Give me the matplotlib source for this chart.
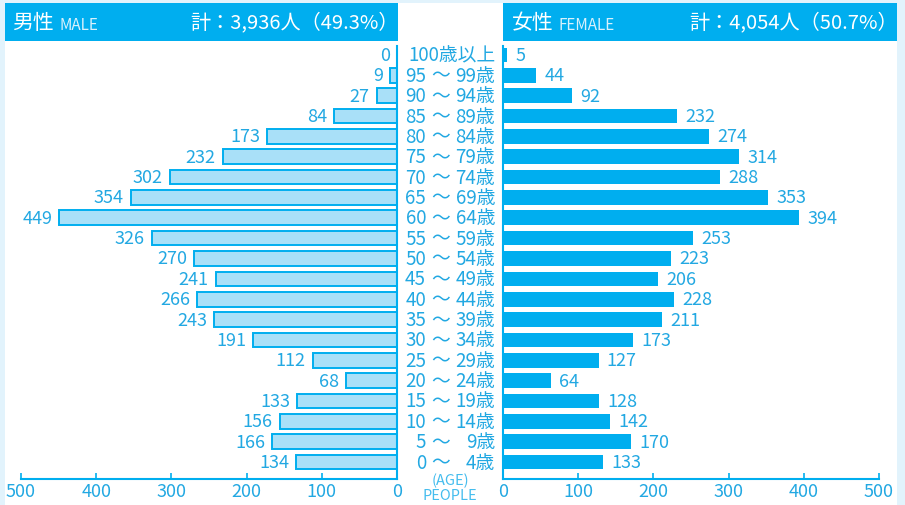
import matplotlib
matplotlib.use("Agg")
import matplotlib.pyplot as plt
from matplotlib.patches import Rectangle
from matplotlib.transforms import blended_transform_factory

plt.rcParams['font.family'] = ['Noto Sans CJK JP', 'DejaVu Sans']

# ---- data (youngest to oldest) ----
age_start = [0, 5, 10, 15, 20, 25, 30, 35, 40, 45, 50, 55, 60, 65, 70, 75, 80, 85, 90, 95]
age_end = [4, 9, 14, 19, 24, 29, 34, 39, 44, 49, 54, 59, 64, 69, 74, 79, 84, 89, 94, 99]
top_label = "100歳以上"
male = [134, 166, 156, 133, 68, 112, 191, 243, 266, 241, 270, 326, 449, 354, 302, 232, 173, 84, 27, 9, 0]
female = [133, 170, 142, 128, 64, 127, 173, 211, 228, 206, 223, 253, 394, 353, 288, 314, 274, 232, 92, 44, 5]
ticks = [0, 100, 200, 300, 400, 500]
male_title = "男性"
male_sub = "MALE"
male_total = "計：3,936人（49.3%）"
female_title = "女性"
female_sub = "FEMALE"
female_total = "計：4,054人（50.7%）"

BLUE = "#00aeef"
TXT = "#22a8e2"
LIGHT = "#a9e0f8"
BG = "#e2f3fc"

W, H = 905, 506
fig = plt.figure(figsize=(W / 100, H / 100), dpi=100)
fig.patch.set_facecolor(BG)

def fx(px):
    return px / W

def fy(py):
    return 1 - py / H

# white panel
fig.add_artist(Rectangle((fx(5), 0), fx(897) - fx(5), fy(4), transform=fig.transFigure,
                         facecolor="white", edgecolor="none", zorder=0))
# headers
for x0, x1 in [(5, 398), (503, 897)]:
    fig.add_artist(Rectangle((fx(x0), fy(42)), fx(x1) - fx(x0), fy(4) - fy(42),
                             transform=fig.transFigure, facecolor=BLUE, edgecolor="none", zorder=1))

fig.text(fx(12), fy(23), male_title, color="white", fontsize=15, va="center", ha="left")
fig.text(fx(59), fy(26), male_sub, color="#d8f1fc", fontsize=11, va="center", ha="left")
fig.text(fx(399), fy(23), male_total, color="white", fontsize=14.5, va="center", ha="right")
fig.text(fx(512), fy(23), female_title, color="white", fontsize=15, va="center", ha="left")
fig.text(fx(558), fy(26), female_sub, color="#d8f1fc", fontsize=11, va="center", ha="left")
fig.text(fx(898), fy(23), female_total, color="white", fontsize=14.5, va="center", ha="right")

n = len(male)
ypos = list(range(n))
ybot, ytop = -0.835, n - 1 + 0.44

axL = fig.add_axes([fx(21), fy(480), fx(397) - fx(21), fy(47) - fy(480)])
axR = fig.add_axes([fx(503), fy(480), fx(879) - fx(503), fy(47) - fy(480)])

axL.barh(ypos, male, height=0.72, color=LIGHT, edgecolor=BLUE, linewidth=1.4)
axR.barh(ypos, female, height=0.72, color=BLUE, edgecolor="none")

axL.set_xlim(500, 0)
axR.set_xlim(0, 500)

for ax, side in [(axL, "left"), (axR, "right")]:
    ax.set_ylim(ybot, ytop)
    ax.set_facecolor("none")
    ax.set_yticks([])
    ax.set_xticks(ticks)
    ax.tick_params(axis="x", direction="in", length=4, width=1.2, color=BLUE,
                   labelcolor=TXT, labelsize=13, pad=2)
    for s in ["top", "left", "right", "bottom"]:
        ax.spines[s].set_visible(False)
    ax.spines["bottom"].set_visible(True)
    ax.spines["bottom"].set_color(BLUE)
    ax.spines["bottom"].set_linewidth(1.5)
    inner = "right" if side == "left" else "left"
    ax.spines[inner].set_visible(True)
    ax.spines[inner].set_color(BLUE)
    ax.spines[inner].set_linewidth(1.5)

for y, v in zip(ypos, male):
    axL.annotate(str(v), (v, y), xytext=(-5, 0), textcoords="offset points",
                 ha="right", va="center", color=TXT, fontsize=13)
for y, v in zip(ypos, female):
    axR.annotate(str(v), (v, y), xytext=(6, 0), textcoords="offset points",
                 ha="left", va="center", color=TXT, fontsize=13)

# age labels
tr = blended_transform_factory(fig.transFigure, axL.transData)
fs_age = 13.5
for y, a, b in zip(ypos, age_start, age_end):
    fig.text(fx(426), y, str(a), transform=tr, ha="right", va="center", color=TXT, fontsize=fs_age)
    fig.text(fx(441), y, "～", transform=tr, ha="center", va="center", color=TXT, fontsize=fs_age)
    fig.text(fx(495), y, f"{b}歳", transform=tr, ha="right", va="center", color=TXT, fontsize=fs_age)
fig.text(fx(495), ypos[-1], top_label, transform=tr, ha="right", va="center", color=TXT, fontsize=fs_age)

fig.text(fx(450), fy(481), "(AGE)", ha="center", va="center", color="#45bdee", fontsize=10.5)
fig.text(fx(450), fy(496), "PEOPLE", ha="center", va="center", color="#45bdee", fontsize=10.5)

fig.savefig("out.png", dpi=100, facecolor=BG)
